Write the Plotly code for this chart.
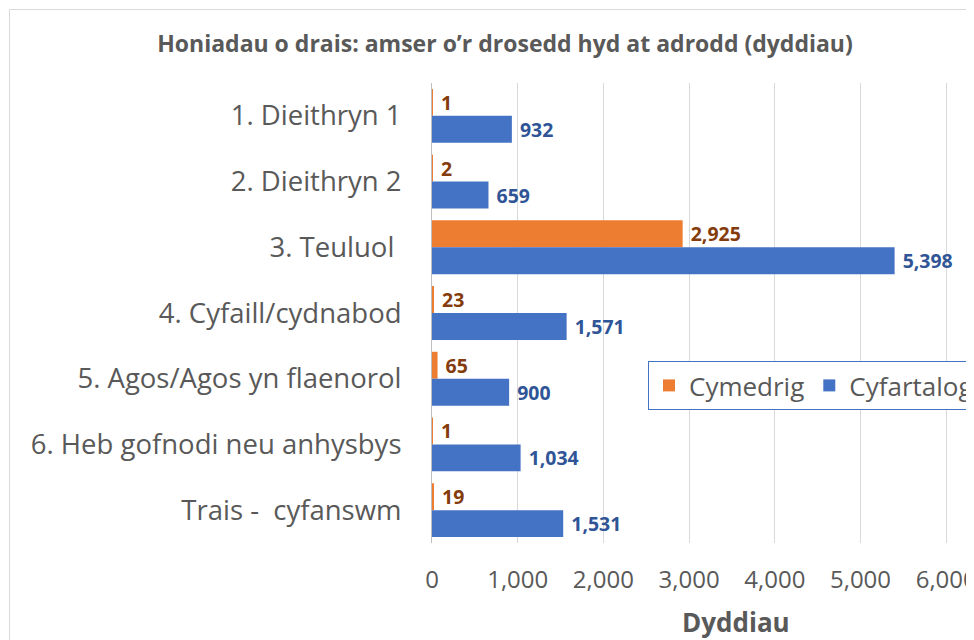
import plotly.graph_objects as go

categories = [
    "1. Dieithryn 1",
    "2. Dieithryn 2",
    "3. Teuluol ",
    "4. Cyfaill/cydnabod",
    "5. Agos/Agos yn flaenorol",
    "6. Heb gofnodi neu anhysbys",
    "Trais -  cyfanswm",
]
cymedrig = [1, 2, 2925, 23, 65, 1, 19]
cyfartalog = [932, 659, 5398, 1571, 900, 1034, 1531]
x_ticks = [0, 1000, 2000, 3000, 4000, 5000, 6000]
x_ticklabels = ["0", "1,000", "2,000", "3,000", "4,000", "5,000", "6,000"]

# the page body has an 8px margin; the figure starts at (8, 8) in the window
OFF = 8
W, H = 974 - OFF, 640 - OFF
L = 432 - OFF
T = 83 - OFF
B = H - (543 - OFF)
PW, PH = W - L, H - T - B
PX_PER_1000 = 85.7

def px_x(px):
    return (px - OFF - L) / PW

def px_y(py):
    return (H - B - (py - OFF)) / PH

ORANGE = "#ED7D31"
BLUE = "#4472C4"
GRAY = "#595959"
FONT = "Open Sans"

fig = go.Figure()
fig.add_trace(go.Bar(
    y=categories, x=cymedrig, orientation="h", name="Cymedrig",
    marker=dict(color=ORANGE, line=dict(width=0)),
    texttemplate="\u00a0%{x:,}", textposition="outside",
    textfont=dict(family=FONT, size=26, color="#843C0C", weight="bold"),
    cliponaxis=False,
))
fig.add_trace(go.Bar(
    y=categories, x=cyfartalog, orientation="h", name="Cyfartalog",
    marker=dict(color=BLUE, line=dict(width=0)),
    texttemplate="\u00a0%{x:,}", textposition="outside",
    textfont=dict(family=FONT, size=26, color="#2F5597", weight="bold"),
    cliponaxis=False,
))

fig.update_layout(
    width=W, height=H,
    margin=dict(l=L, r=0, t=T, b=B, autoexpand=False),
    paper_bgcolor="white", plot_bgcolor="white",
    barmode="group", bargap=0.18, bargroupgap=0,
    title=dict(
        text="<b>Honiadau o drais: amser o\u2019r drosedd hyd at adrodd (dyddiau)</b>",
        x=(505 - OFF) / W, xanchor="center", xref="container",
        y=1 - (44 - OFF) / H, yanchor="middle", yref="container",
        font=dict(family=FONT, size=23, color=GRAY),
    ),
    xaxis=dict(
        range=[0, PW / PX_PER_1000 * 1000], tickvals=x_ticks, ticktext=x_ticklabels,
        showgrid=True, gridcolor="#D9D9D9", gridwidth=1, zeroline=False,
        showline=False, ticks="", ticklabelstandoff=20, ticklabeloverflow="allow",
        tickfont=dict(family=FONT, size=24, color=GRAY),
    ),
    yaxis=dict(
        autorange="reversed", showgrid=False, zeroline=False,
        showline=True, linecolor="#BFBFBF", linewidth=1, ticks="",
        ticklabelstandoff=24,
        tickfont=dict(family=FONT, size=27.5, color=GRAY),
    ),
    legend=dict(
        orientation="h", x=px_x(648), y=px_y(361), xanchor="left", yanchor="top",
        bgcolor="white", bordercolor=BLUE, borderwidth=1,
        font=dict(family=FONT, size=26, color=GRAY), traceorder="normal",
    ),
    showlegend=True,
    annotations=[dict(
        text="<b>Dyddiau</b>", xref="paper", yref="paper",
        x=px_x(736), y=px_y(622), xanchor="center", yanchor="middle",
        showarrow=False, font=dict(family=FONT, size=26, color=GRAY),
    )],
    shapes=[dict(
        type="rect", xref="paper", yref="paper",
        x0=px_x(9.5), y1=px_y(9.5), x1=px_x(1100), y0=px_y(800),
        line=dict(color="#D9D9D9", width=1), fillcolor="rgba(0,0,0,0)", layer="below",
    )],
)

fig.write_html("out.html")
